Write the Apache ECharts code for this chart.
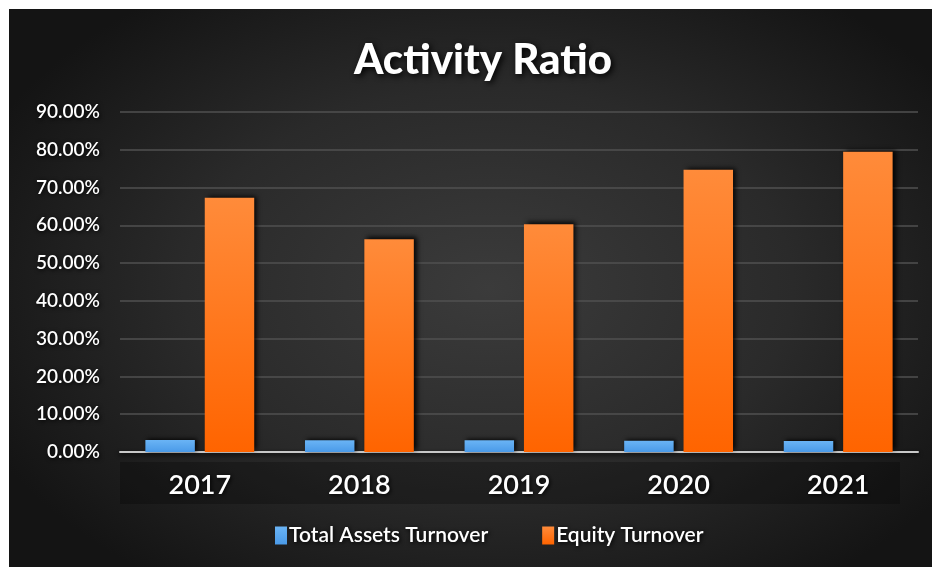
<!DOCTYPE html>
<html>
<head>
<meta charset="utf-8">
<script src="https://cdn.jsdelivr.net/npm/echarts@6/dist/echarts.min.js"></script>
<style>
html,body{margin:0;padding:0;background:#fff;width:932px;height:567px;overflow:hidden;}
#bg{position:absolute;left:9px;top:9px;width:923px;height:558px;
background:radial-gradient(ellipse 60% 65% at 52% 50%, #3b3b3b 0%, #2a2a2a 55%, #141414 100%);}
#chart{position:absolute;left:0;top:0;width:932px;height:567px;}
</style>
</head>
<body>
<div id="bg"></div>
<div id="chart"></div>
<script>
const categories = ['2017','2018','2019','2020','2021'];
const totalAssetsTurnover = [3.2, 3.1, 3.1, 3.0, 2.9];
const equityTurnover = [67.3, 56.3, 60.3, 74.7, 79.5];
const seriesNames = ['Total Assets Turnover', 'Equity Turnover'];

const chart = echarts.init(document.getElementById('chart'), null, {renderer:'canvas'});
const shadowText = {color:'#fff', textShadowColor:'#000', textShadowBlur:4, textShadowOffsetX:1, textShadowOffsetY:1};
chart.setOption({
  backgroundColor:'transparent',
  animation:false,
  title:{text:'Activity Ratio', left:478, top:34, textAlign:'center',
    textStyle:Object.assign({fontFamily:'Lato', fontWeight:900, fontSize:42}, shadowText, {textShadowBlur:6, textShadowOffsetX:2, textShadowOffsetY:2})},
  graphic:[{type:'rect', shape:{x:120, y:462, width:780, height:42}, style:{fill:'rgba(0,0,0,0.25)'}, z:-1}],
  grid:{left:120, right:14, top:112, bottom:115},
  legend:{data:seriesNames, bottom:16, left:270, itemWidth:12, itemHeight:18, itemGap:54,
    textStyle:Object.assign({fontFamily:'Lato', fontWeight:600, fontSize:21, padding:[0,0,0,-3]}, shadowText),
    icon:'rect'},
  xAxis:{type:'category', data:categories,
    axisLine:{lineStyle:{color:'#c8c8c8', width:2, shadowColor:'#000', shadowBlur:4, shadowOffsetY:2}},
    axisTick:{show:false},
    axisLabel:Object.assign({fontFamily:'Lato', fontWeight:600, fontSize:27, margin:20}, shadowText)},
  yAxis:{type:'value', min:0, max:90, interval:10,
    axisLabel:Object.assign({fontFamily:'Lato', fontWeight:600, fontSize:19, margin:20, formatter:v=>v.toFixed(2)+'%'}, shadowText),
    splitLine:{lineStyle:{color:'#505050', width:1.5}},
    axisLine:{show:false}, axisTick:{show:false}},
  series:[
    {name:seriesNames[0], type:'bar', data:totalAssetsTurnover, barWidth:'31%', barGap:'20%',
      itemStyle:{color:new echarts.graphic.LinearGradient(0,0,0,1,[{offset:0,color:'#6ab4f5'},{offset:1,color:'#4a9ae8'}]),
        shadowColor:'rgba(0,0,0,0.9)', shadowBlur:4, shadowOffsetX:2, shadowOffsetY:-1}},
    {name:seriesNames[1], type:'bar', data:equityTurnover, barWidth:'31%',
      itemStyle:{color:new echarts.graphic.LinearGradient(0,0,0,1,[{offset:0,color:'#ff8b3a'},{offset:1,color:'#ff6400'}]),
        shadowColor:'rgba(0,0,0,0.9)', shadowBlur:5, shadowOffsetX:3, shadowOffsetY:-2}}
  ]
});
</script>
</body>
</html>
